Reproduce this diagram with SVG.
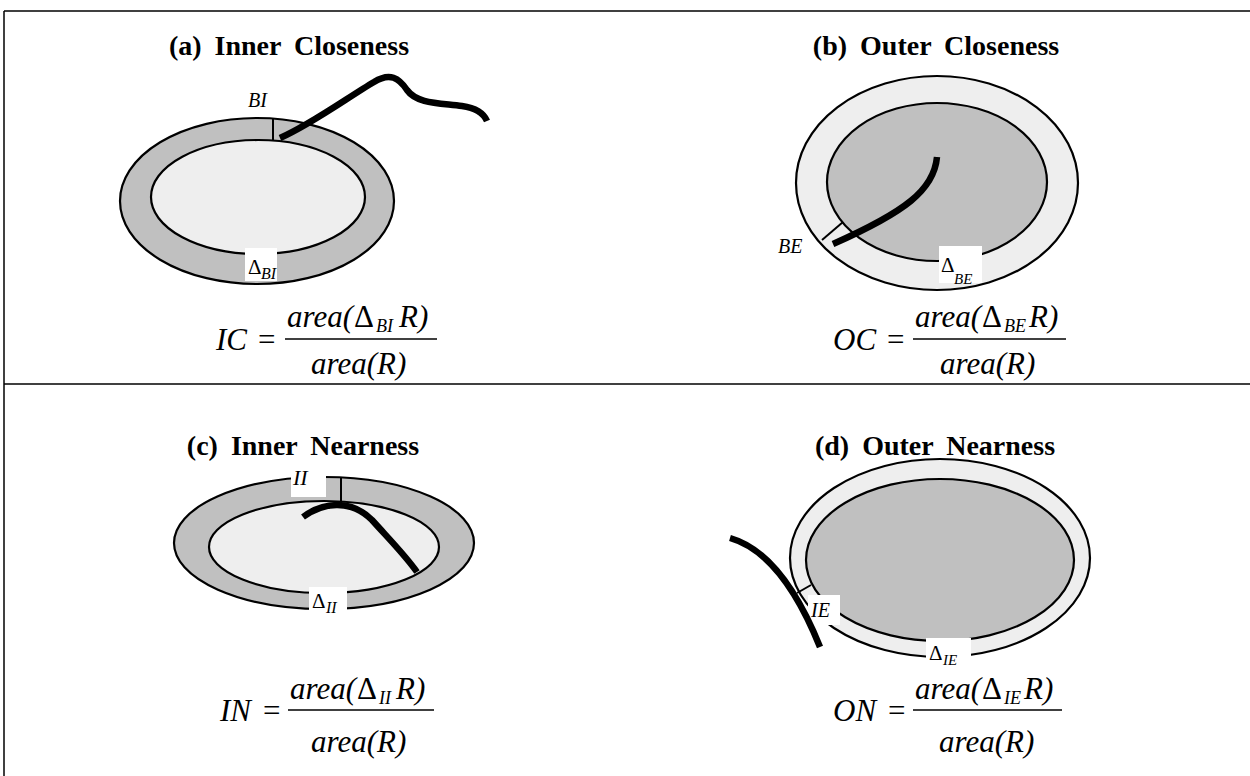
<svg xmlns="http://www.w3.org/2000/svg" width="1250" height="776" viewBox="0 0 1250 776">
<style>
.title{font-family:"Liberation Serif",serif;font-weight:bold;font-size:28px;word-spacing:6px;text-anchor:middle;fill:#000}
.it{font-family:"Liberation Serif",serif;font-style:italic;fill:#000}
.up{font-family:"Liberation Serif",serif;font-style:normal;fill:#000}
.rim{stroke:#000;stroke-width:2.2}
.dark{fill:#c0c0c0}
.light{fill:#eeeeee}
.thick{fill:none;stroke:#000;stroke-width:6.5}
.tick{stroke:#000;stroke-width:2}
.frame{stroke:#000;stroke-width:1.5;fill:none}
.box{fill:#fff}
.fr{stroke:#000;stroke-width:1.5}
</style>
<rect width="1250" height="776" fill="#fff"/>
<g id="frame">
<line class="frame" x1="4" y1="11" x2="1250" y2="11"/>
<line class="frame" x1="4" y1="11" x2="4" y2="776"/>
<line class="frame" x1="4" y1="384" x2="1250" y2="384"/>
</g>
<g id="panel-a">
<text class="title" x="289" y="55">(a) Inner Closeness</text>
<ellipse class="rim dark" cx="257" cy="201" rx="137" ry="83"/>
<ellipse class="rim light" cx="258" cy="197" rx="107" ry="57"/>
<line class="tick" x1="273" y1="118" x2="273" y2="140"/>
<text class="it" x="248" y="107" font-size="20">BI</text>
<rect class="box" x="245" y="248" width="32" height="33"/>
<text class="up" x="248" y="274" font-size="21">Δ</text>
<text class="it" x="261" y="279" font-size="16">BI</text>
<text class="it" x="216" y="350" font-size="31">IC</text>
<text class="up" x="258" y="350" font-size="31">=</text>
<text class="it" x="287" y="327" font-size="31">area(<tspan class="up" x="354">Δ</tspan><tspan x="376" dy="5" font-size="18">BI</tspan><tspan x="399" dy="-5">R</tspan>)</text>
<line class="fr" x1="285" y1="339" x2="437" y2="339"/>
<text class="it" x="311" y="374" font-size="31">area(R)</text>
</g>
<g id="panel-b">
<text class="title" x="936" y="55">(b) Outer Closeness</text>
<ellipse class="rim light" cx="937" cy="183" rx="141" ry="107"/>
<ellipse class="rim dark" cx="937" cy="182" rx="110" ry="79"/>
<line class="tick" x1="822" y1="240" x2="843" y2="222"/>
<text class="it" x="778" y="253" font-size="20">BE</text>
<rect class="box" x="939" y="246" width="43" height="37"/>
<text class="up" x="941" y="272" font-size="21">Δ</text>
<text class="it" x="954" y="284" font-size="15">BE</text>
<text class="it" x="833" y="350" font-size="31">OC</text>
<text class="up" x="887" y="350" font-size="31">=</text>
<text class="it" x="915" y="327" font-size="31">area(<tspan class="up" x="982">Δ</tspan><tspan x="1004" dy="5" font-size="18">BE</tspan><tspan x="1029" dy="-5">R</tspan>)</text>
<line class="fr" x1="913" y1="339" x2="1066" y2="339"/>
<text class="it" x="940" y="374" font-size="31">area(R)</text>
</g>
<g id="panel-c">
<text class="title" x="303" y="455">(c) Inner Nearness</text>
<ellipse class="rim dark" cx="324" cy="543" rx="150" ry="66"/>
<ellipse class="rim light" cx="324" cy="547" rx="115" ry="46"/>
<line class="tick" x1="341" y1="477" x2="341" y2="501"/>
<rect class="box" x="291" y="475" width="35" height="22"/>
<text class="it" x="293" y="485" font-size="22">II</text>
<rect class="box" x="309" y="587" width="38" height="28"/>
<text class="up" x="312" y="608" font-size="21">Δ</text>
<text class="it" x="326" y="613" font-size="16">II</text>
<text class="it" x="220" y="721" font-size="31">IN</text>
<text class="up" x="263" y="721" font-size="31">=</text>
<text class="it" x="290" y="699" font-size="31">area(<tspan class="up" x="357">Δ</tspan><tspan x="379" dy="5" font-size="18">II</tspan><tspan x="396" dy="-5">R</tspan>)</text>
<line class="fr" x1="288" y1="710" x2="434" y2="710"/>
<text class="it" x="311" y="752" font-size="31">area(R)</text>
</g>
<g id="panel-d">
<text class="title" x="935" y="455">(d) Outer Nearness</text>
<ellipse class="rim light" cx="940" cy="558" rx="150" ry="99"/>
<ellipse class="rim dark" cx="940" cy="560" rx="134" ry="81"/>
<line class="tick" x1="797" y1="593" x2="811" y2="585"/>
<rect class="box" x="808" y="595" width="32" height="30"/>
<text class="it" x="811" y="617" font-size="20">IE</text>
<rect class="box" x="926" y="638" width="45" height="30"/>
<text class="up" x="929" y="660" font-size="21">Δ</text>
<text class="it" x="943" y="665" font-size="15">IE</text>
<text class="it" x="833" y="721" font-size="31">ON</text>
<text class="up" x="888" y="721" font-size="31">=</text>
<text class="it" x="915" y="699" font-size="31">area(<tspan class="up" x="982">Δ</tspan><tspan x="1004" dy="5" font-size="18">IE</tspan><tspan x="1024" dy="-5">R</tspan>)</text>
<line class="fr" x1="913" y1="710" x2="1062" y2="710"/>
<text class="it" x="939" y="752" font-size="31">area(R)</text>
</g>
<g id="connectors">
<path class="thick" d="M280,138 C310,125 350,96 374,82 C390,72 399,78 407,90 C417,104 440,103 462,106 C476,108 484,114 487,121"/>
<path class="thick" d="M937,157 C934,190 905,212 833,244"/>
<path class="thick" d="M303,517 C322,503 350,498 372,520 C390,540 405,555 417,572"/>
<path class="thick" d="M730,538 C765,548 795,585 820,647"/>
</g>
</svg>
